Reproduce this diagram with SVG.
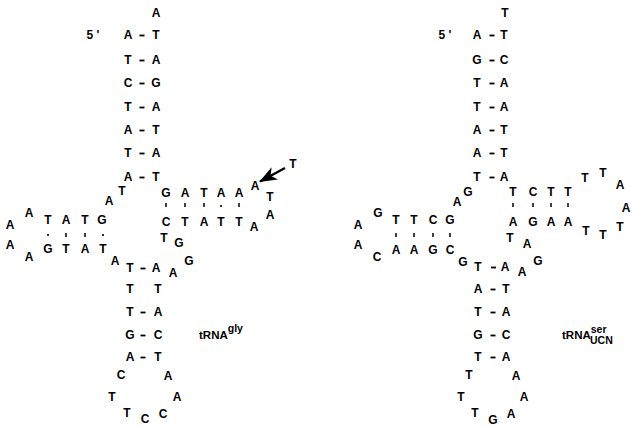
<svg xmlns="http://www.w3.org/2000/svg" width="631" height="428" viewBox="0 0 631 428">
<defs>
<style>
text{font-family:"Liberation Sans",Arial,sans-serif;font-weight:bold;font-size:12px;fill:#000;text-anchor:middle}
.lab{text-anchor:start;font-size:11.5px}
.sup{font-size:10.5px}
.bond{stroke:#000;stroke-width:1.8;stroke-linecap:butt}
.tick{stroke:#000;stroke-width:1.5}
.dot{fill:#000}
</style>
<marker id="ah" viewBox="0 0 18 14" refX="17" refY="7" markerWidth="18" markerHeight="14" markerUnits="userSpaceOnUse" orient="auto">
<path d="M0,0 L18,7 L0,14 L5,7 Z" fill="#000"/>
</marker>
</defs>
<rect width="631" height="428" fill="#fff"/>

<g id="gly-acceptor">
<text x="156" y="17">A</text>
<text x="93" y="39">5 '</text>
<text x="128" y="39">A</text><text x="156" y="39">T</text>
<text x="128" y="64">T</text><text x="156" y="64">A</text>
<text x="128" y="87">C</text><text x="156" y="87">G</text>
<text x="128" y="111">T</text><text x="156" y="111">A</text>
<text x="128" y="134">A</text><text x="156" y="134">T</text>
<text x="128" y="157">T</text><text x="156" y="157">A</text>
<text x="128" y="181">A</text><text x="156" y="181">T</text>
<text x="122" y="195">T</text><text x="109" y="205">A</text>
</g>
<g id="gly-darm">
<text x="29" y="217">A</text>
<text x="48" y="224">T</text><text x="66" y="224">A</text><text x="85" y="224">T</text><text x="102" y="224">G</text>
<text x="10" y="229">A</text><text x="10" y="249">A</text>
<text x="29" y="261">A</text>
<text x="48" y="253">G</text><text x="66" y="253">T</text><text x="85" y="253">A</text><text x="103" y="253">T</text>
<text x="115" y="265">A</text>
</g>
<g id="gly-tarm">
<text x="164" y="242">T</text><text x="179" y="247">G</text>
<text x="166" y="197">G</text><text x="185" y="197">A</text><text x="204" y="197">T</text><text x="221" y="197">A</text><text x="239" y="197">A</text>
<text x="255" y="190">A</text>
<text x="166" y="226">C</text><text x="185" y="226">T</text><text x="204" y="226">A</text><text x="221" y="226">T</text><text x="239" y="226">T</text>
<text x="254" y="231">A</text>
<text x="270" y="201">T</text><text x="270" y="219">A</text>
<text x="293" y="168">T</text>
</g>
<g id="gly-anticodon">
<text x="130" y="272">T</text><text x="156" y="272">A</text>
<text x="173" y="277">A</text><text x="189" y="265">G</text>
<text x="130" y="293">T</text><text x="158" y="293">T</text>
<text x="130" y="316">T</text><text x="158" y="316">A</text>
<text x="130" y="339">G</text><text x="158" y="339">C</text>
<text x="130" y="361">A</text><text x="158" y="361">T</text>
<text x="121" y="379">C</text><text x="168" y="380">A</text>
<text x="112" y="401">T</text><text x="177" y="401">A</text>
<text x="127" y="417">T</text><text x="145" y="423">C</text><text x="163" y="418">C</text>
</g>
<g id="gly-label">
<text class="lab" x="199" y="339">tRNA<tspan class="sup" dy="-7">gly</tspan></text>
</g>

<g id="ser-acceptor">
<text x="505" y="17">T</text>
<text x="445" y="39">5 '</text>
<text x="477" y="39">A</text><text x="504" y="39">T</text>
<text x="477" y="64">G</text><text x="504" y="64">C</text>
<text x="477" y="87">T</text><text x="504" y="87">A</text>
<text x="477" y="111">T</text><text x="504" y="111">A</text>
<text x="477" y="134">A</text><text x="504" y="134">T</text>
<text x="477" y="157">A</text><text x="504" y="157">T</text>
<text x="477" y="181">T</text><text x="504" y="181">A</text>
<text x="468" y="196">G</text><text x="457" y="206">A</text>
</g>
<g id="ser-darm">
<text x="378" y="217">G</text>
<text x="396" y="224">T</text><text x="414" y="224">T</text><text x="433" y="224">C</text><text x="450" y="224">G</text>
<text x="358" y="229">A</text><text x="358" y="249">A</text>
<text x="377" y="261">C</text>
<text x="396" y="254">A</text><text x="414" y="254">A</text><text x="433" y="254">G</text><text x="450" y="254">C</text>
<text x="463" y="266">G</text>
</g>
<g id="ser-tarm">
<text x="510" y="242">T</text><text x="527" y="248">A</text>
<text x="513" y="196">T</text><text x="533" y="196">C</text><text x="551" y="196">T</text><text x="568" y="196">T</text>
<text x="513" y="226">A</text><text x="533" y="226">G</text><text x="551" y="226">A</text><text x="568" y="226">A</text>
<text x="585" y="182">T</text><text x="603" y="177">T</text><text x="620" y="189">A</text>
<text x="626" y="212">A</text>
<text x="620" y="231">T</text><text x="603" y="239">T</text><text x="586" y="235">T</text>
</g>
<g id="ser-anticodon">
<text x="478" y="271">T</text><text x="505" y="271">A</text>
<text x="522" y="276">A</text><text x="538" y="265">G</text>
<text x="478" y="293">A</text><text x="506" y="293">T</text>
<text x="478" y="316">T</text><text x="506" y="316">A</text>
<text x="478" y="339">G</text><text x="506" y="339">C</text>
<text x="478" y="361">T</text><text x="506" y="361">A</text>
<text x="469" y="379">T</text><text x="516" y="380">A</text>
<text x="461" y="401">T</text><text x="524" y="401">A</text>
<text x="475" y="417">T</text><text x="493" y="424">G</text><text x="511" y="418">A</text>
</g>
<g id="ser-label">
<text class="lab" x="562" y="339">tRNA<tspan class="sup" dy="-6">ser</tspan><tspan class="sup" x="590" dy="11">UCN</tspan></text>
</g>

<g id="connectors">
<g class="bond">
<line x1="139.5" y1="35.5" x2="144.5" y2="35.5"/>
<line x1="139.5" y1="60.5" x2="144.5" y2="60.5"/>
<line x1="139.5" y1="83.5" x2="144.5" y2="83.5"/>
<line x1="139.5" y1="107.5" x2="144.5" y2="107.5"/>
<line x1="139.5" y1="130.5" x2="144.5" y2="130.5"/>
<line x1="139.5" y1="153.5" x2="144.5" y2="153.5"/>
<line x1="139.5" y1="177.5" x2="144.5" y2="177.5"/>
<line x1="140.5" y1="268.5" x2="145.5" y2="268.5"/>
<line x1="140.5" y1="312.5" x2="145.5" y2="312.5"/>
<line x1="140.5" y1="335.5" x2="145.5" y2="335.5"/>
<line x1="140.5" y1="357.5" x2="145.5" y2="357.5"/>
<line x1="489.5" y1="35.5" x2="494.5" y2="35.5"/>
<line x1="489.5" y1="60.5" x2="494.5" y2="60.5"/>
<line x1="489.5" y1="83.5" x2="494.5" y2="83.5"/>
<line x1="489.5" y1="107.5" x2="494.5" y2="107.5"/>
<line x1="489.5" y1="130.5" x2="494.5" y2="130.5"/>
<line x1="489.5" y1="153.5" x2="494.5" y2="153.5"/>
<line x1="489.5" y1="177.5" x2="494.5" y2="177.5"/>
<line x1="491" y1="267.5" x2="496" y2="267.5"/>
<line x1="490.5" y1="289.5" x2="495.5" y2="289.5"/>
<line x1="490.5" y1="312.5" x2="495.5" y2="312.5"/>
<line x1="490.5" y1="335.5" x2="495.5" y2="335.5"/>
<line x1="490.5" y1="357.5" x2="495.5" y2="357.5"/>
</g>
<g class="tick">
<line x1="66" y1="233" x2="66" y2="237"/>
<line x1="85" y1="233" x2="85" y2="237"/>
<line x1="166" y1="203" x2="166" y2="207"/>
<line x1="185" y1="203" x2="185" y2="207"/>
<line x1="204" y1="203" x2="204" y2="207"/>
<line x1="239" y1="203" x2="239" y2="207"/>
<line x1="396" y1="233" x2="396" y2="237"/>
<line x1="414" y1="233" x2="414" y2="237"/>
<line x1="433" y1="233" x2="433" y2="237"/>
<line x1="450" y1="233" x2="450" y2="237"/>
<line x1="513" y1="203" x2="513" y2="207"/>
<line x1="533" y1="203" x2="533" y2="207"/>
<line x1="551" y1="203" x2="551" y2="207"/>
<line x1="568" y1="203" x2="568" y2="207"/>
</g>
<g class="dot">
<circle cx="48" cy="235" r="1.1"/>
<circle cx="103" cy="235" r="1.1"/>
<circle cx="221" cy="206" r="1.1"/>
</g>
<line x1="285" y1="168" x2="260" y2="181.5" stroke="#000" stroke-width="2.4" marker-end="url(#ah)"/>
</g>
</svg>
